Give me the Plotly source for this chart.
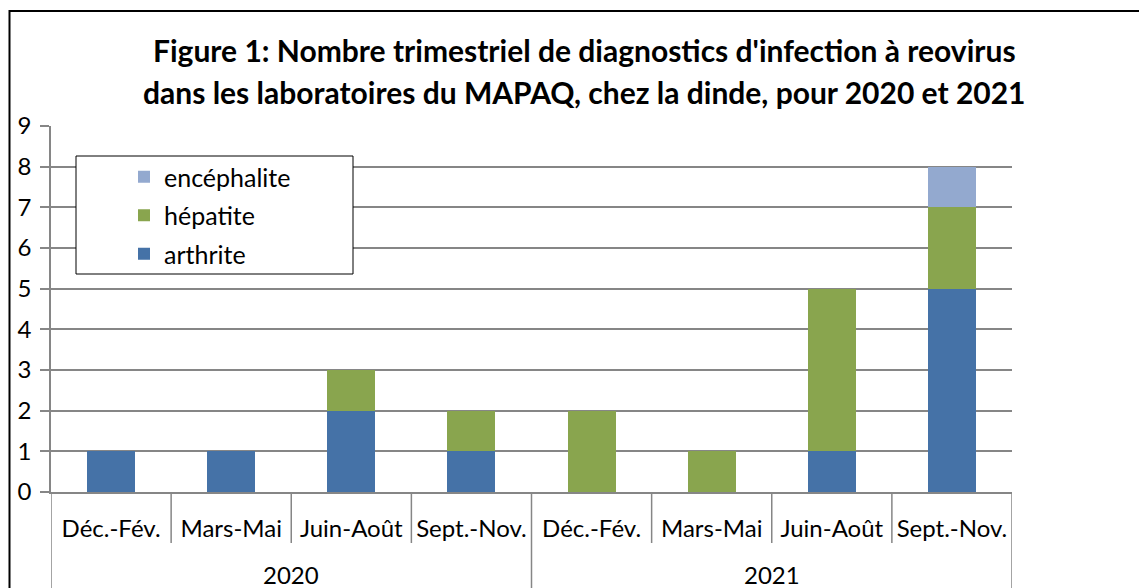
import plotly.graph_objects as go

# ---- data ----
years = ["2020", "2021"]
quarters = ["Déc.-Fév.", "Mars-Mai", "Juin-Août", "Sept.-Nov."]
categories = [(y, q) for y in years for q in quarters]

arthrite = [1, 1, 2, 1, 0, 0, 1, 5]
hepatite = [0, 0, 1, 1, 2, 1, 4, 2]
encephalite = [0, 0, 0, 0, 0, 0, 0, 1]

series = [
    ("arthrite", arthrite, "#4572A7", 3),
    ("hépatite", hepatite, "#89A54E", 2),
    ("encéphalite", encephalite, "#93A9CF", 1),
]

title_lines = [
    "Figure 1: Nombre trimestriel de diagnostics d'infection à reovirus",
    "dans les laboratoires du MAPAQ, chez la dinde, pour 2020 et 2021",
]

FONT = "Lato"
GRID = "#868686"
OFF = 8  # page body margin

W, H = 1147, 588
# plot area in reference-page pixels
PL, PR, PT, PB = 51, 1012, 126, 492
L = PL - OFF
T = PT - OFF
R = W - (PR - OFF)
B = H - (PB - OFF)
plot_h = PB - PT
plot_w = PR - PL


def py(px):  # reference page pixel y -> paper y
    return (PB - px) / plot_h


def pxx(px):  # reference page pixel x -> paper x
    return (px - PL) / plot_w


xpos = list(range(len(categories)))

fig = go.Figure()
for name, vals, col, rank in series:
    fig.add_trace(go.Bar(
        x=xpos, y=vals, name=name, marker_color=col,
        marker_line_width=0, width=0.4, legendgroup=name, legendrank=rank,
    ))

shapes = []
# chart border (left edge as close to the page edge as the figure allows)
shapes.append(dict(
    type="rect", xref="paper", yref="paper",
    x0=pxx(OFF + 1.5), x1=pxx(1170), y0=py(11), y1=py(620),
    line=dict(color="#000000", width=2), fillcolor="rgba(0,0,0,0)", layer="below",
))
# separators between inner categories
n = len(categories)
for i in range(n + 1):
    boundary = i - 0.5
    is_group = (i % len(quarters) == 0)
    shapes.append(dict(
        type="line", xref="x", yref="paper",
        x0=boundary, x1=boundary, y0=0, y1=py(620) if is_group else py(543),
        line=dict(color=GRID, width=1.5),
    ))
# legend frame
shapes.append(dict(
    type="rect", xref="paper", yref="paper",
    x0=pxx(76), x1=pxx(353), y0=py(156), y1=py(274),
    line=dict(color="#000000", width=1), fillcolor="white", layer="above",
))

annotations = []
for gi, yr in enumerate(years):
    center = gi * len(quarters) + (len(quarters) - 1) / 2
    annotations.append(dict(
        x=center, xref="x", y=py(574), yref="paper", text=yr, showarrow=False,
        font=dict(family=FONT, size=24, color="#000"), xanchor="center", yanchor="middle",
    ))
for k, line in enumerate(title_lines):
    annotations.append(dict(
        x=pxx(584), xref="paper", y=py(50 + 42 * k), yref="paper", text="<b>%s</b>" % line,
        showarrow=False, font=dict(family=FONT, size=30, color="#000"),
        xanchor="center", yanchor="middle",
    ))

fig.update_layout(
    width=W, height=H,
    margin=dict(l=L, r=R, t=T, b=B, autoexpand=False),
    paper_bgcolor="white", plot_bgcolor="white",
    barmode="stack",
    font=dict(family=FONT, size=24, color="#000"),
    showlegend=True,
    legend=dict(
        x=pxx(124), y=py(154), xanchor="left", yanchor="top",
        borderwidth=0, bgcolor="rgba(0,0,0,0)",
        traceorder="grouped", tracegroupgap=3,
        itemwidth=30, font=dict(family=FONT, size=25),
    ),
    shapes=shapes,
    annotations=annotations,
    xaxis=dict(
        range=[-0.5, n - 0.5], tickvals=xpos, ticktext=[q for _, q in categories],
        showgrid=False, zeroline=False, showline=True, linecolor=GRID, linewidth=1.5,
        ticks="", ticklabelstandoff=14, tickfont=dict(family=FONT, size=24),
        fixedrange=True,
    ),
    yaxis=dict(
        range=[0, 9], dtick=1, tick0=0, showgrid=True, gridcolor=GRID, gridwidth=1.5,
        zeroline=False, showline=True, linecolor=GRID, linewidth=1.5,
        ticks="outside", ticklen=9, tickcolor=GRID, tickwidth=1.5,
        ticklabelstandoff=4, tickfont=dict(family=FONT, size=24),
    ),
)

fig.write_html("out.html")
